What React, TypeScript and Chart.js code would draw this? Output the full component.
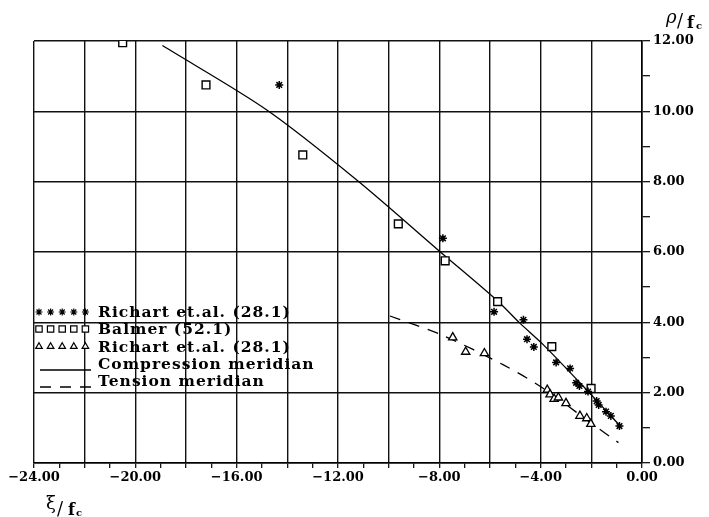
import React, { useEffect, useRef } from 'react';
import { Chart, registerables } from 'chart.js';
import { drawPoint } from 'chart.js/helpers';

Chart.register(...registerables);

// Richart et.al. (28.1) – compression tests (stars)
const starX = [-14.32, -7.86, -5.84, -4.68, -4.54, -4.27, -3.39, -2.84, -2.6, -2.47, -2.13, -1.79, -1.71, -1.42, -1.23, -0.89];
const starY = [10.75, 6.39, 4.30, 4.07, 3.52, 3.30, 2.86, 2.69, 2.28, 2.19, 2.03, 1.76, 1.65, 1.46, 1.34, 1.05];
// Balmer (52.1) (squares)
const squareX = [-20.5, -17.21, -13.39, -9.62, -7.77, -5.7, -3.56, -2.01];
const squareY = [11.95, 10.75, 8.76, 6.80, 5.75, 4.59, 3.31, 2.12];
// Richart et.al. (28.1) – tension tests (triangles)
const triX = [-7.47, -6.96, -6.22, -3.74, -3.63, -3.47, -3.3, -3.0, -2.45, -2.18, -2.02];
const triY = [3.57, 3.16, 3.12, 2.08, 1.95, 1.82, 1.86, 1.70, 1.34, 1.27, 1.11];
// Compression meridian
const compX = [-18.93, -14.81, -11.26, -7.97, -5.73, -4.81, -3.89, -2.12, -0.87];
const compY = [11.87, 10.04, 8.05, 6.01, 4.63, 3.97, 3.36, 2.03, 1.06];
// Tension meridian
const tensX = [-9.95, -7.9, -5.47, -3.89, -2.0, -0.93];
const tensY = [4.18, 3.64, 2.79, 2.12, 1.13, 0.58];

const seriesLabels = [
  'Richart et.al. (28.1)',
  'Balmer (52.1)',
  'Richart et.al. (28.1)',
  'Compression meridian',
  'Tension meridian',
];

const X_MIN = -24;
const X_MAX = 0;
const Y_MIN = 0;
const Y_MAX = 12;

const toPts = (xs: number[], ys: number[]) => xs.map((x, i) => ({ x, y: ys[i] }));
const fmt = (v: number) => v.toFixed(2).replace('-', '\u2212');

const W = 709;
const H = 517;
const SERIF = '"DejaVu Serif", serif';

const overlayPlugin = {
  id: 'overlay',
  afterDraw(chart: any) {
    const ctx = chart.ctx as CanvasRenderingContext2D;
    const ca = chart.chartArea;
    ctx.save();
    ctx.fillStyle = '#000';
    ctx.strokeStyle = '#000';

    // legend
    const lx = ca.left + 5;
    const tx = ca.left + 64;
    const rows = [312, 329, 346.5, 364, 381];
    const ds = chart.data.datasets;
    ctx.font = `bold 15.5px ${SERIF}`;
    (ctx as any).letterSpacing = '1px';
    ctx.textBaseline = 'middle';
    ctx.textAlign = 'left';
    for (let r = 0; r < ds.length; r++) {
      const d = ds[r];
      const y = rows[r];
      ctx.fillStyle = '#000';
      ctx.fillText(d.label, tx, y + 1);
      if (d.showLine) {
        ctx.save();
        ctx.lineWidth = 1.3;
        ctx.setLineDash(d.borderDash || []);
        ctx.beginPath();
        ctx.moveTo(lx + 1, y + 6);
        ctx.lineTo(lx + 52, y + 6);
        ctx.stroke();
        ctx.restore();
      } else {
        for (let k = 0; k < 5; k++) {
          ctx.save();
          ctx.lineWidth = 1.2;
          ctx.strokeStyle = '#000';
          ctx.fillStyle = '#fff';
          drawPoint(ctx, { pointStyle: d.pointStyle, rotation: 0, radius: d.legendRadius, borderWidth: 1.2 }, lx + k * 11.6, y);
          ctx.restore();
        }
      }
    }
    (ctx as any).letterSpacing = '0px';

    // axis titles
    ctx.fillStyle = '#000';
    ctx.textBaseline = 'alphabetic';
    // rho / f_c (top right)
    ctx.font = `italic 18px ${SERIF}`;
    ctx.fillText('\u03C1', 666, 23);
    ctx.font = `18px ${SERIF}`;
    ctx.fillText('/', 677, 27);
    ctx.font = `bold 16px ${SERIF}`;
    ctx.fillText('f', 687, 28);
    ctx.font = `bold 10px ${SERIF}`;
    ctx.fillText('c', 696, 29);
    // xi / f_c (bottom left)
    ctx.font = `18px ${SERIF}`;
    ctx.fillText('\u03BE', 46, 509);
    ctx.fillText('/', 57, 515);
    ctx.font = `bold 16px ${SERIF}`;
    ctx.fillText('f', 68, 515);
    ctx.font = `bold 10px ${SERIF}`;
    ctx.fillText('c', 76, 516);
    ctx.restore();
  },
};

export default function App() {
  const ref = useRef<HTMLCanvasElement | null>(null);

  useEffect(() => {
    const canvas = ref.current;
    if (!canvas) return;
    const gridColor = (c: any) => (Math.round(c.tick.value) % 2 === 0 ? '#111' : 'rgba(0,0,0,0)');
    const chart = new Chart(canvas, {
      type: 'scatter',
      data: {
        datasets: [
          {
            label: seriesLabels[0],
            data: toPts(starX, starY),
            pointStyle: 'star',
            pointRadius: 4,
            borderColor: '#000',
            backgroundColor: '#000',
            borderWidth: 1.5,
            showLine: false,
            legendRadius: 3.5,
          } as any,
          {
            label: seriesLabels[1],
            data: toPts(squareX, squareY),
            pointStyle: 'rect',
            pointRadius: 5.5,
            borderColor: '#000',
            backgroundColor: '#fff',
            borderWidth: 1.4,
            showLine: false,
            legendRadius: 4.5,
          } as any,
          {
            label: seriesLabels[2],
            data: toPts(triX, triY),
            pointStyle: 'triangle',
            pointRadius: 4.8,
            borderColor: '#000',
            backgroundColor: '#fff',
            borderWidth: 1.3,
            showLine: false,
            legendRadius: 3.8,
          } as any,
          {
            label: seriesLabels[3],
            data: toPts(compX, compY),
            showLine: true,
            pointRadius: 0,
            borderColor: '#000',
            borderWidth: 1.3,
            tension: 0.3,
          } as any,
          {
            label: seriesLabels[4],
            data: toPts(tensX, tensY),
            showLine: true,
            pointRadius: 0,
            borderColor: '#000',
            borderWidth: 1.3,
            borderDash: [11, 9],
            tension: 0.3,
          } as any,
        ],
      },
      options: {
        responsive: false,
        animation: false,
        events: [],
        layout: { padding: { left: 34, top: 41, right: 0, bottom: 0 } },
        plugins: { legend: { display: false }, tooltip: { enabled: false }, title: { display: false } },
        scales: {
          x: {
            type: 'linear',
            min: X_MIN,
            max: X_MAX,
            afterFit: (s: any) => { s.height = 54; },
            ticks: {
              stepSize: 1,
              autoSkip: false,
              maxRotation: 0,
              padding: 2,
              color: '#000',
              font: { family: SERIF, size: 13, weight: 'bold' },
              callback: (v: any) => (Math.round(v) % 4 === 0 ? fmt(Number(v)) : ''),
            },
            grid: {
              color: gridColor,
              tickColor: '#000',
              tickLength: 5,
              lineWidth: 1.4,
              tickWidth: 1.2,
            },
            border: { display: true, color: '#000', width: 1.6 },
          },
          y: {
            type: 'linear',
            position: 'right',
            min: Y_MIN,
            max: Y_MAX,
            afterFit: (s: any) => { s.width = 67; },
            ticks: {
              stepSize: 1,
              autoSkip: false,
              padding: 3,
              color: '#000',
              font: { family: SERIF, size: 13, weight: 'bold' },
              callback: (v: any) => (Math.round(v) % 2 === 0 ? fmt(Number(v)) : ''),
            },
            grid: {
              color: gridColor,
              tickColor: '#000',
              tickLength: 8,
              lineWidth: 1.4,
              tickWidth: 1.2,
            },
            border: { display: true, color: '#000', width: 1.6 },
          },
        },
      } as any,
      plugins: [overlayPlugin],
    });
    return () => chart.destroy();
  }, []);

  return (
    <div style={{ position: 'fixed', left: 0, top: 0, width: W, height: H, background: '#fff' }}>
      <canvas ref={ref} width={W} height={H} style={{ display: 'block', width: W, height: H }} />
    </div>
  );
}
